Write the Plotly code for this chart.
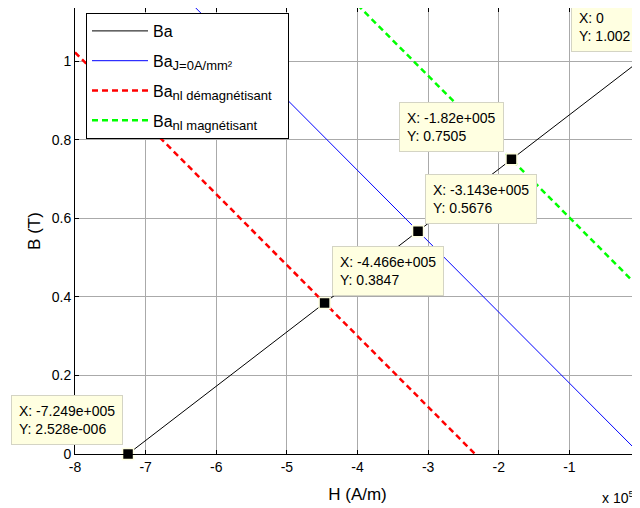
import plotly.graph_objects as go

# H values in units of 1e5 A/m, B in T
H_ba = [-7.249, -4.466, -3.143, -1.82, 0.0]
B_ba = [2.528e-6, 0.3847, 0.5676, 0.7505, 1.002]

H_j0 = [-8.0, 0.0]
B_j0 = [1.445, 0.0]

H_dem = [-8.0, -2.336]
B_dem = [1.023, 0.0]

H_mag = [-4.0, 0.0]
B_mag = [1.144, 0.422]

tip_x_labels = ["-7.249e+005", "-4.466e+005", "-3.143e+005", "-1.82e+005", "0"]
tip_y_labels = ["2.528e-006", "0.3847", "0.5676", "0.7505", "1.002"]

x_ticks = [-8, -7, -6, -5, -4, -3, -2, -1, 0]
y_ticks = [0, 0.2, 0.4, 0.6, 0.8, 1.0]
y_tick_text = ["0", "0.2", "0.4", "0.6", "0.8", "1"]

FONT = "Liberation Sans, Arial, sans-serif"
SUB = "<sub><span style='font-size:13px'>{}</span></sub>"

# the page body has an 8px margin, so the figure is placed 8px in
W, H = 632, 500
L, B = 67, 54
PW, PH = W - L, H - B

fig = go.Figure()
fig.add_trace(go.Scatter(x=H_ba, y=B_ba, mode="lines", name="Ba", legendgroup="a",
                         line=dict(color="black", width=1)))
fig.add_trace(go.Scatter(x=H_j0, y=B_j0, mode="lines", name="Ba" + SUB.format("J=0A/mm²"),
                         legendgroup="b", line=dict(color="#0000ff", width=1)))
fig.add_trace(go.Scatter(x=H_dem, y=B_dem, mode="lines",
                         name="Ba" + SUB.format("nl démagnétisant&nbsp;&nbsp;&nbsp;"),
                         legendgroup="c",
                         line=dict(color="#ff0000", width=2.5, dash="6px,4px")))
fig.add_trace(go.Scatter(x=H_mag, y=B_mag, mode="lines",
                         name="Ba" + SUB.format("nl magnétisant"), legendgroup="d",
                         line=dict(color="#00ff00", width=2.5, dash="6px,4px")))
fig.add_trace(go.Scatter(x=H_ba, y=B_ba, mode="markers", showlegend=False, cliponaxis=False,
                         marker=dict(symbol="square", size=11, color="black",
                                     line=dict(color="#ffffe1", width=1.5))))
# invisible trace for top tick axis
fig.add_trace(go.Scatter(x=[-8], y=[0], xaxis="x2", mode="markers", showlegend=False,
                         marker=dict(opacity=0), hoverinfo="skip"))

# datatips: (anchor x, xshift, yshift)
tip_pos = [("right", -5, 9), ("left", 7, 7), ("left", 7, 7), ("right", -7, 7), ("right", -1, 9)]
for i in range(len(H_ba)):
    xa, xs, ys = tip_pos[i]
    fig.add_annotation(x=H_ba[i], y=B_ba[i], xref="x", yref="y",
                       text=f"X: {tip_x_labels[i]}<br>Y: {tip_y_labels[i]}",
                       showarrow=False, xanchor=xa, yanchor="bottom",
                       xshift=xs, yshift=ys, align="left",
                       bgcolor="#ffffe1", bordercolor="#d4d4c4", borderwidth=1,
                       borderpad=7, font=dict(family=FONT, size=14, color="black"))

fig.add_annotation(text="x 10<sup>5</sup>", xref="paper", yref="paper",
                   x=(592 - L) / PW, y=(PH - 489) / PH, xanchor="left", yanchor="middle",
                   showarrow=False, font=dict(family=FONT, size=14, color="black"))

fig.update_layout(
    width=W, height=H,
    margin=dict(l=L, r=0, t=0, b=B, pad=0, autoexpand=False),
    paper_bgcolor="white", plot_bgcolor="white",
    font=dict(family=FONT, size=14, color="black"),
    xaxis=dict(range=[-8, 0], tickvals=x_ticks, ticktext=[str(v) for v in x_ticks],
               showgrid=True, gridcolor="#aaaaaa", gridwidth=1, zeroline=False,
               showline=True, linecolor="black", linewidth=1, automargin=False,
               ticks="inside", ticklen=4, tickcolor="black",
               title=dict(text="H (A/m)", standoff=14), tickfont=dict(size=14)),
    xaxis2=dict(range=[-8, 0], overlaying="x", side="top", tickvals=x_ticks,
                showticklabels=False, showgrid=False, zeroline=False, showline=False,
                automargin=False, ticks="inside", ticklen=4, tickcolor="black"),
    yaxis=dict(range=[0, 1.136], tickvals=y_ticks, ticktext=y_tick_text,
               showgrid=True, gridcolor="#aaaaaa", gridwidth=1, zeroline=False,
               showline=True, linecolor="black", linewidth=1, automargin=False,
               ticks="inside", ticklen=4, tickcolor="black",
               title=dict(text="B (T)", standoff=6), tickfont=dict(size=14)),
    legend=dict(x=(78 - L) / PW, y=1 - 5 / PH, xanchor="left", yanchor="top",
                bgcolor="white", bordercolor="black", borderwidth=1,
                font=dict(family=FONT, size=16, color="black"),
                tracegroupgap=6, itemwidth=56),
    showlegend=True,
)

fig.write_html("out.html")
